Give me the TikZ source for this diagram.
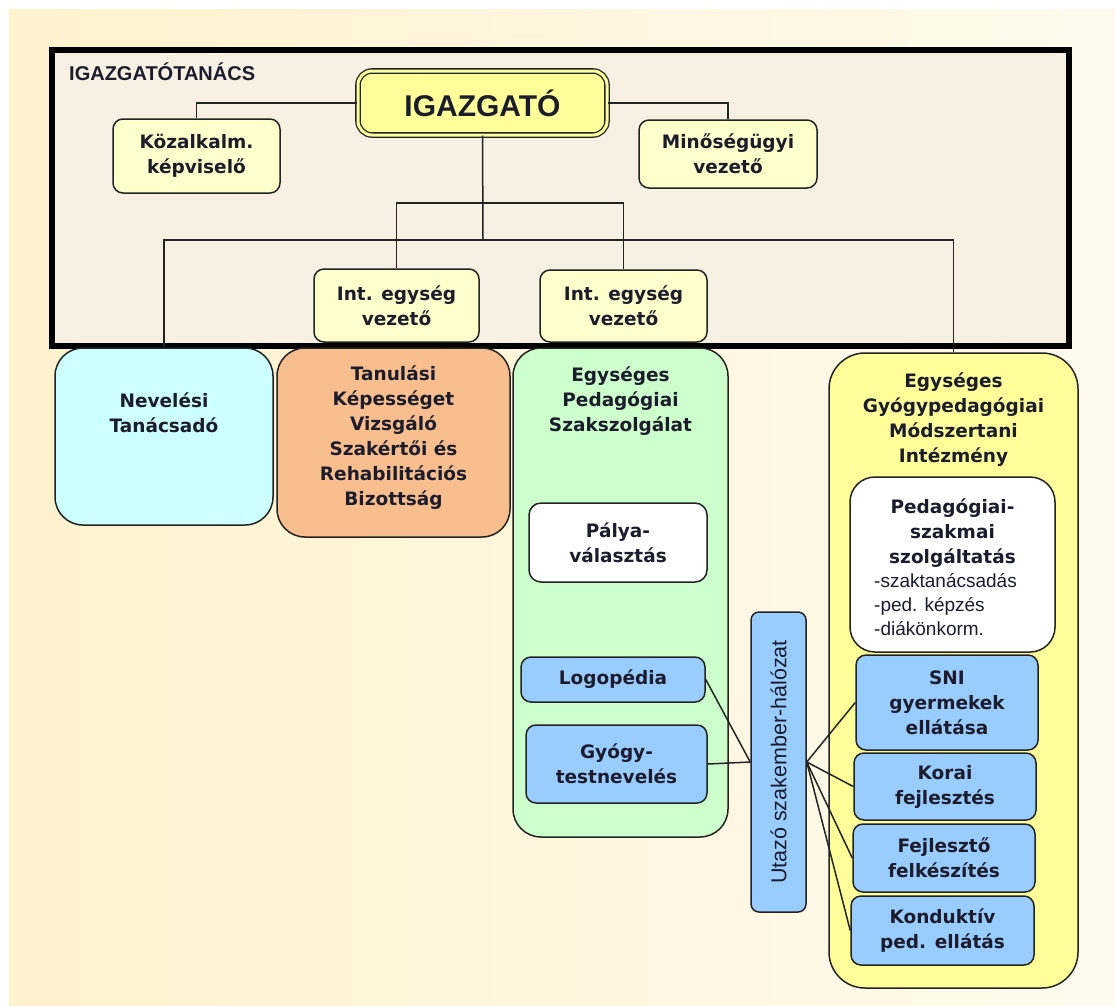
\documentclass[tikz,border=0pt]{standalone}
\usepackage{fontspec}
\setmainfont{DejaVu Sans}
\newfontfamily\arialfont{Liberation Sans}
\usepackage{tikz}
\usetikzlibrary{positioning}

\definecolor{hatter1}{RGB}{255,242,206}
\definecolor{hatter2}{RGB}{255,250,238}
\definecolor{tanacsszin}{RGB}{247,240,227}
\definecolor{igazgszin}{RGB}{255,255,153}
\definecolor{vezszin}{RGB}{255,255,204}
\definecolor{nevszin}{RGB}{204,255,255}
\definecolor{tanulszin}{RGB}{249,190,142}
\definecolor{zoldszin}{RGB}{204,255,204}
\definecolor{sargaszin}{RGB}{255,255,153}
\definecolor{kekszin}{RGB}{153,204,255}
\definecolor{keret}{RGB}{35,35,35}
\definecolor{betu}{RGB}{28,28,45}

\begin{document}
\begin{tikzpicture}[x=1pt, y=-1pt,
	szoveg/.style={text=betu, align=center, inner sep=0pt, font=\bfseries\fontsize{18.5}{25}\selectfont},
	doboz/.style={draw=keret, line width=1.5pt, rounded corners=10pt, szoveg},
	vezeto/.style={doboz, fill=vezszin},
	kek/.style={doboz, fill=kekszin},
	nagy/.style={doboz, rounded corners=28pt},
	vonal/.style={draw=keret, line width=1.5pt}]
	\useasboundingbox (0,0) rectangle (1115,1005);
	\shade[left color=hatter1, right color=hatter2] (9,9) rectangle (1115,1005);

	\node[draw=black, line width=6pt, fill=tanacsszin, minimum width=1017pt, minimum height=296pt] (tanacs) at (560,198) {};
	\node[anchor=base west, inner sep=0pt, text=betu, font=\arialfont\bfseries\fontsize{20}{24}\selectfont] (tanacs_cim) at (69,80) {IGAZGATÓTANÁCS};

	\node[doboz, fill=igazgszin, double=igazgszin, double distance=3pt, line width=1.3pt, rounded corners=14pt, minimum width=249pt, minimum height=64pt, font=\arialfont\bfseries\fontsize{30}{34}\selectfont] (igazgato) at (482.5,103) {IGAZGATÓ};
	\node[vezeto, minimum width=167pt, minimum height=74pt] (kozalk) at (196.5,156) {Közalkalm.\\képviselő};
	\node[vezeto, minimum width=178pt, minimum height=68pt] (minoseg) at (728,154) {Minőségügyi\\vezető};
	\node[vezeto, minimum width=165pt, minimum height=73pt] (int_1) at (396.5,305.5) {Int. egység\\vezető};
	\node[vezeto, minimum width=167pt, minimum height=72pt] (int_2) at (623.5,306) {Int. egység\\vezető};

	\node[nagy, fill=nevszin, minimum width=218pt, minimum height=177pt] (nev) at (164,436.5) {};
	\node[szoveg, below=45pt of nev.north] (nev_cim) {Nevelési\\Tanácsadó};
	\node[nagy, fill=tanulszin, minimum width=233pt, minimum height=189pt] (tanul) at (393.5,442.5) {};
	\node[szoveg, below=18pt of tanul.north] (tanul_cim) {Tanulási\\Képességet\\Vizsgáló\\Szakértői és\\Rehabilitációs\\Bizottság};
	\node[nagy, fill=zoldszin, minimum width=215pt, minimum height=489pt] (egysz) at (620.5,592.5) {};
	\node[szoveg, below=19pt of egysz.north] (egysz_cim) {Egységes\\Pedagógiai\\Szakszolgálat};
	\node[nagy, fill=sargaszin, rounded corners=36pt, minimum width=249pt, minimum height=635pt] (egymi) at (953.5,670.5) {};
	\node[szoveg, below=20pt of egymi.north] (egymi_cim) {Egységes\\Gyógypedagógiai\\Módszertani\\Intézmény};

	\node[doboz, fill=white, rounded corners=12pt, minimum width=178pt, minimum height=79pt] (palya) at (618,542.5) {Pálya-\\választás};
	\node[kek, minimum width=184pt, minimum height=45pt] (logo) at (613,679.5) {Logopédia};
	\node[kek, minimum width=181pt, minimum height=78pt] (gyogytest) at (616.5,764) {Gyógy-\\testnevelés};

	\node[doboz, fill=white, rounded corners=25pt, minimum width=205pt, minimum height=175pt] (pedszak) at (952.5,564.5) {};
	\node[szoveg, below=22pt of pedszak.north] (pedszak_cim) {Pedagógiai-\\szakmai\\szolgáltatás};
	\node[anchor=north west, align=left, inner sep=0pt, text=betu, font=\arialfont\fontsize{19}{24}\selectfont] (pedszak_lista) at (874,573) {-szaktanácsadás\\-ped. képzés\\-diákönkorm.};

	\node[kek, rounded corners=8pt, minimum width=55pt, minimum height=300pt] (utazo) at (778.5,762) {};
	\node[rotate=90, inner sep=0pt, text=betu, font=\arialfont\fontsize{21.5}{24}\selectfont] (utazo_cim) at (utazo.center) {Utazó szakember-hálózat};

	\node[kek, minimum width=182pt, minimum height=95pt] (sni) at (947,702.5) {SNI\\gyermekek\\ellátása};
	\node[kek, minimum width=182pt, minimum height=67pt] (korai) at (945,786.5) {Korai\\fejlesztés};
	\node[kek, minimum width=182pt, minimum height=68pt] (fejl) at (944,858) {Fejlesztő\\felkészítés};
	\node[kek, minimum width=183pt, minimum height=69pt] (kond) at (942.5,930.5) {Konduktív\\ped. ellátás};

	\coordinate (elag_1) at (483,203);
	\coordinate (elag_2) at (483,240);
	\draw[vonal] (igazgato.west) -| (kozalk.north);
	\draw[vonal] (igazgato.east) -| (minoseg.north);
	\draw[vonal] (igazgato.south) -- (elag_2);
	\draw[vonal] (int_1.north) |- (elag_1) -| (int_2.north);
	\draw[vonal] (nev.north) |- (elag_2) -| (egymi.north);
	\path[vonal] (logo.east) edge (utazo.west)
		(gyogytest.east) edge (utazo.west)
		(utazo.east) edge (sni.west)
		edge (korai.west)
		edge (fejl.west)
		edge (kond.west);
\end{tikzpicture}
\end{document}
